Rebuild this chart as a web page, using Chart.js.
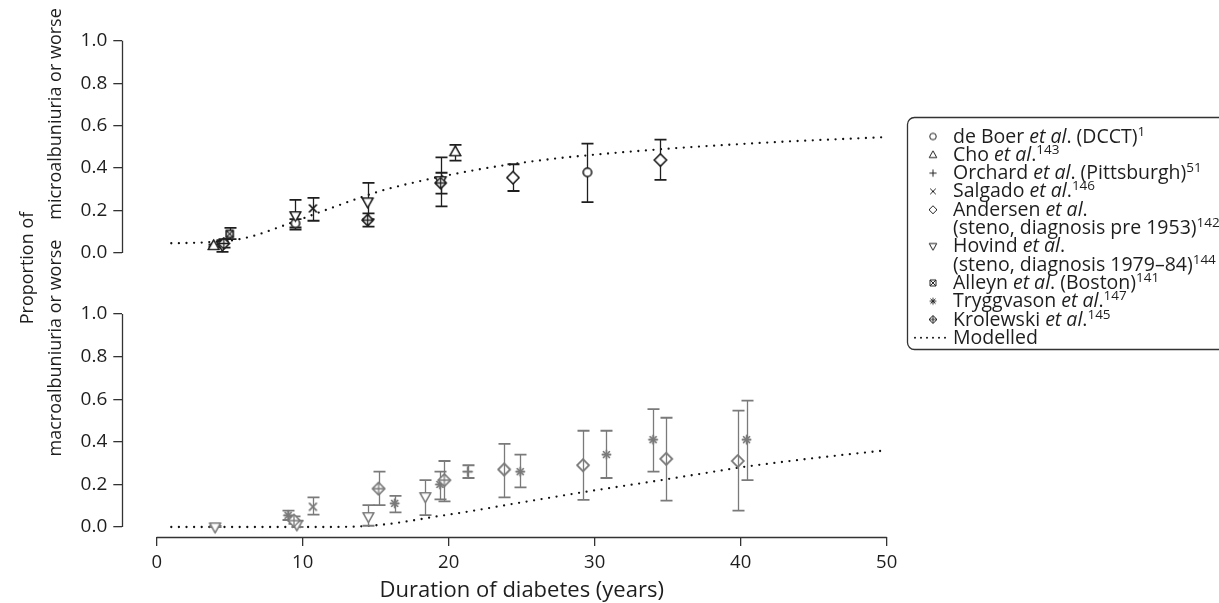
<!DOCTYPE html>
<html><head><meta charset="utf-8">
<script src="https://cdn.jsdelivr.net/npm/chart.js@4.4.1/dist/chart.umd.min.js"></script>
<style>
html,body{margin:0;padding:0;background:#fff;overflow:hidden}
#wrap{position:relative;width:1219px;height:603px}
canvas{position:absolute;left:0;top:0}
</style></head><body>
<div id="wrap"><canvas id="cTop" width="1219" height="603"></canvas><canvas id="cBot" width="1219" height="603"></canvas></div>
<script>
// ---------- data ----------
const xTicks = [0, 10, 20, 30, 40, 50];
const yTicks = [0, 0.2, 0.4, 0.6, 0.8, 1.0];

// modelled curves (read at sample durations)
const modelX     = [1, 2, 3, 4, 5, 6, 7, 8, 9, 10, 11, 12, 13, 14, 15, 16, 17, 18, 19, 20, 22, 24, 26, 28, 30, 32, 34, 36, 38, 40, 42, 44, 46, 48, 50];
const modelMicro = [0.046, 0.047, 0.049, 0.053, 0.058, 0.07, 0.088, 0.112, 0.137, 0.162, 0.188, 0.213, 0.238, 0.262, 0.285, 0.305, 0.322, 0.338, 0.353, 0.367, 0.393, 0.415, 0.434, 0.45, 0.463, 0.475, 0.486, 0.496, 0.505, 0.513, 0.521, 0.528, 0.534, 0.54, 0.546];
const modelMacro = [0, 0, 0, 0, 0, 0, 0, 0, 0, 0, 0, 0, 0.001, 0.003, 0.008, 0.015, 0.025, 0.036, 0.048, 0.058, 0.08, 0.104, 0.127, 0.15, 0.172, 0.193, 0.214, 0.236, 0.258, 0.28, 0.298, 0.315, 0.331, 0.346, 0.36];

// study points: [duration, proportion, lower, upper]
const deBoerMicro     = [[9.5, 0.14, 0.12, 0.16], [29.5, 0.38, 0.24, 0.515]];
const choMicro        = [[3.9, 0.035, 0.03, 0.04], [20.45, 0.477, 0.435, 0.509]];
const salgadoMicro    = [[10.7, 0.21, 0.152, 0.26]];
const andersenMicro   = [[24.4, 0.355, 0.292, 0.418], [34.5, 0.438, 0.344, 0.534]];
const hovindMicro     = [[4.5, 0.035, 0.005, 0.06], [9.5, 0.175, 0.11, 0.25], [14.45, 0.24, 0.16, 0.33], [19.45, 0.34, 0.22, 0.45]];
const alleynMicro     = [[5.0, 0.09, 0.065, 0.118]];
const krolewskiMicro  = [[4.6, 0.045, 0.025, 0.065], [14.45, 0.155, 0.124, 0.187], [19.45, 0.33, 0.28, 0.378]];

const hovindMacro     = [[4.0, 0.0, 0.0, 0.005], [9.6, 0.01, 0.0, 0.03], [14.5, 0.048, 0.006, 0.103], [18.4, 0.142, 0.056, 0.22]];
const tryggvasonMacro = [[9.0, 0.055, 0.033, 0.077], [16.3, 0.111, 0.069, 0.146], [19.4, 0.2, 0.13, 0.26], [24.9, 0.26, 0.186, 0.34], [30.8, 0.34, 0.23, 0.452], [34.0, 0.41, 0.26, 0.553], [40.4, 0.41, 0.22, 0.593]];
const krolewskiMacro  = [[9.4, 0.03, 0.015, 0.05], [15.2, 0.18, 0.103, 0.26], [19.7, 0.22, 0.12, 0.31]];
const andersenMacro   = [[23.8, 0.27, 0.139, 0.39], [29.2, 0.29, 0.127, 0.452], [34.9, 0.32, 0.124, 0.513], [39.8, 0.31, 0.077, 0.546]];
const salgadoMacro    = [[10.7, 0.095, 0.058, 0.139]];
const orchardMacro    = [[21.3, 0.26, 0.23, 0.29]];

// legend text runs: plain string, or [text, 'i'] italic, or [text, 's'] superscript
const legendMarkers = ['circle', 'tri', 'plus', 'cross', 'diamond', null, 'triDown', null, 'boxX', 'star', 'diamondPlus', 'line'];
const legendLines = [
  ['de Boer ', ['et al', 'i'], '. (DCCT)', ['1', 's']],
  ['Cho ', ['et al', 'i'], '.', ['143', 's']],
  ['Orchard ', ['et al', 'i'], '. (Pittsburgh)', ['51', 's']],
  ['Salgado ', ['et al', 'i'], '.', ['146', 's']],
  ['Andersen ', ['et al', 'i'], '.'],
  ['(steno, diagnosis pre 1953)', ['142', 's']],
  ['Hovind ', ['et al', 'i'], '.'],
  ['(steno, diagnosis 1979\u201384)', ['144', 's']],
  ['Alleyn ', ['et al', 'i'], '. (Boston)', ['141', 's']],
  ['Tryggvason ', ['et al', 'i'], '.', ['147', 's']],
  ['Krolewski ', ['et al', 'i'], '.', ['145', 's']],
  ['Modelled']
];
const xTitle = 'Duration of diabetes (years)';
const yTitleCommon = 'Proportion of';
const yTitleTop = 'microalbuniuria or worse';
const yTitleBottom = 'macroalbuniuria or worse';

// ---------- styling ----------
const FONT = "'Open Sans', 'Noto Sans', sans-serif";
const DARK = '#1e1e1e';
const GREY = '#7a7a7a';
Chart.defaults.font.family = FONT;
Chart.defaults.color = DARK;

function makeMarker(kind, size, color, lw, hollow) {
  const W = Math.ceil(size + 4);
  const c = document.createElement('canvas');
  c.width = W; c.height = W;
  const g = c.getContext('2d');
  g.strokeStyle = color; g.fillStyle = hollow ? 'rgba(0,0,0,0)' : '#fff'; g.lineWidth = lw; g.lineJoin = 'miter';
  const m = W / 2, r = size / 2;
  const diamond = () => { g.beginPath(); g.moveTo(m, m - r); g.lineTo(m + r, m); g.lineTo(m, m + r); g.lineTo(m - r, m); g.closePath(); g.fill(); g.stroke(); };
  const plus = (k) => { g.beginPath(); g.moveTo(m - r * k, m); g.lineTo(m + r * k, m); g.moveTo(m, m - r * k); g.lineTo(m, m + r * k); g.stroke(); };
  const cross = (k) => { g.beginPath(); g.moveTo(m - r * k, m - r * k); g.lineTo(m + r * k, m + r * k); g.moveTo(m + r * k, m - r * k); g.lineTo(m - r * k, m + r * k); g.stroke(); };
  switch (kind) {
    case 'circle': g.beginPath(); g.arc(m, m, r * 0.82, 0, Math.PI * 2); g.fill(); g.stroke(); break;
    case 'tri': g.beginPath(); g.moveTo(m, m - r); g.lineTo(m + r * 0.95, m + r * 0.7); g.lineTo(m - r * 0.95, m + r * 0.7); g.closePath(); g.fill(); g.stroke(); break;
    case 'triDown': g.beginPath(); g.moveTo(m, m + r); g.lineTo(m + r * 0.95, m - r * 0.7); g.lineTo(m - r * 0.95, m - r * 0.7); g.closePath(); g.fill(); g.stroke(); break;
    case 'plus': plus(0.9); break;
    case 'cross': cross(0.7); break;
    case 'diamond': diamond(); break;
    case 'boxX': g.beginPath(); g.rect(m - r * 0.75, m - r * 0.75, r * 1.5, r * 1.5); g.fill(); g.stroke(); cross(0.75); break;
    case 'star': plus(0.85); cross(0.62); break;
    case 'diamondPlus': diamond(); plus(1); break;
  }
  return c;
}

function pts(arr) { return arr.map(p => ({ x: p[0], y: p[1], lo: p[2], hi: p[3] })); }
function studySet(label, arr, kind, color, size, hollow) {
  return { type: 'scatter', label, data: pts(arr), pointStyle: makeMarker(kind, size, color, 1.3, hollow),
           pointRadius: size / 2, errColor: color, showLine: false, clip: false, order: 1 };
}
function modelSet(vals) {
  return { type: 'line', label: 'Modelled', data: modelX.map((x, i) => ({ x, y: vals[i] })),
           borderColor: '#111', borderWidth: 2.3, borderDash: [0, 7.6], borderCapStyle: 'round',
           pointRadius: 0, fill: false, cubicInterpolationMode: 'monotone', clip: false, order: 2 };
}

// ---------- plugins ----------
const errorBars = {
  id: 'errorBars',
  afterDatasetsDraw(chart) {
    const { ctx, scales: { x, y } } = chart;
    chart.data.datasets.forEach(ds => {
      if (!ds.errColor) return;
      ctx.save();
      ctx.strokeStyle = ds.errColor;
      ds.data.forEach(p => {
        const px = Math.round(x.getPixelForValue(p.x)) + 0.5;
        const yl = y.getPixelForValue(p.lo), yh = y.getPixelForValue(p.hi);
        ctx.lineWidth = 1.3;
        ctx.beginPath(); ctx.moveTo(px, yl); ctx.lineTo(px, yh); ctx.stroke();
        ctx.lineWidth = 1.8;
        ctx.beginPath(); ctx.moveTo(px - 6, yl); ctx.lineTo(px + 6, yl); ctx.moveTo(px - 6, yh); ctx.lineTo(px + 6, yh); ctx.stroke();
      });
      ctx.restore();
    });
  }
};
// redraw markers on top of error bars
const markersOnTop = {
  id: 'markersOnTop',
  afterDraw(chart) {
    const { ctx } = chart;
    chart.data.datasets.forEach((ds, i) => {
      if (!ds.errColor) return;
      const meta = chart.getDatasetMeta(i);
      meta.data.forEach(el => {
        const img = ds.pointStyle;
        ctx.drawImage(img, el.x - img.width / 2, el.y - img.height / 2);
      });
    });
  }
};
const axisLines = {
  id: 'axisLines',
  afterDraw(chart, args, opts) {
    const { ctx, chartArea, scales: { x, y } } = chart;
    ctx.save();
    ctx.strokeStyle = '#333'; ctx.lineWidth = 1.3;
    const ax = Math.round(chartArea.left) + 0.5;
    ctx.beginPath(); ctx.moveTo(ax, y.getPixelForValue(0)); ctx.lineTo(ax, y.getPixelForValue(1)); ctx.stroke();
    if (opts.xLine) {
      const by = Math.round(chartArea.bottom) + 0.5;
      ctx.beginPath(); ctx.moveTo(x.getPixelForValue(0), by); ctx.lineTo(x.getPixelForValue(50), by); ctx.stroke();
      ctx.fillStyle = DARK; ctx.font = '22px ' + FONT; ctx.textAlign = 'center'; ctx.textBaseline = 'middle';
      ctx.fillText(xTitle, (x.getPixelForValue(0) + x.getPixelForValue(50)) / 2, 591);
    }
    ctx.restore();
  }
};
function drawRich(ctx, runs, x, y) {
  let cx = x;
  runs.forEach(r => {
    let t = r, st = '';
    if (Array.isArray(r)) { t = r[0]; st = r[1]; }
    if (st === 's') { ctx.font = '13.5px ' + FONT; ctx.fillText(t, cx, y - 7); }
    else { ctx.font = (st === 'i' ? 'italic ' : '') + '19.5px ' + FONT; ctx.fillText(t, cx, y); }
    cx += ctx.measureText(t).width;
  });
}
const legendAndTitles = {
  id: 'legendAndTitles',
  afterDraw(chart) {
    const { ctx } = chart;
    ctx.save();
    // legend box
    const L = 907.5, T = 117.5, R = 1240, B = 349.5, rad = 7;
    ctx.strokeStyle = '#333'; ctx.lineWidth = 1.3;
    ctx.beginPath(); ctx.moveTo(R, T); ctx.lineTo(L + rad, T); ctx.arcTo(L, T, L, T + rad, rad);
    ctx.lineTo(L, B - rad); ctx.arcTo(L, B, L + rad, B, rad); ctx.lineTo(R, B); ctx.stroke();
    ctx.fillStyle = DARK; ctx.textBaseline = 'alphabetic'; ctx.textAlign = 'left';
    legendLines.forEach((runs, k) => {
      const base = 142.5 + k * 18.3;
      const mk = legendMarkers[k];
      if (mk === 'line') {
        ctx.save(); ctx.strokeStyle = '#111'; ctx.lineWidth = 2; ctx.lineCap = 'round'; ctx.setLineDash([0, 6]);
        ctx.beginPath(); ctx.moveTo(915, base - 6); ctx.lineTo(950, base - 6); ctx.stroke(); ctx.restore();
      } else if (mk) {
        const img = makeMarker(mk, 8, '#222', 1);
        ctx.drawImage(img, 933 - img.width / 2, base - 6 - img.height / 2);
      }
      drawRich(ctx, runs, 953, base);
    });
    // y titles
    ctx.font = '18px ' + FONT; ctx.textAlign = 'center'; ctx.textBaseline = 'middle';
    const rot = (t, x, y) => { ctx.save(); ctx.translate(x, y); ctx.rotate(-Math.PI / 2); ctx.fillText(t, 0, 0); ctx.restore(); };
    rot(yTitleCommon, 28, 268);
    rot(yTitleTop, 56, 114);
    rot(yTitleBottom, 56, 348);
    ctx.restore();
  }
};

function yScale(min) {
  return {
    type: 'linear', min, max: 1,
    afterBuildTicks: s => { s.ticks = yTicks.map(v => ({ value: v })); },
    afterFit: s => { s.width = 122.3; },
    ticks: { font: { size: 19 }, color: DARK, padding: 6, callback: v => v.toFixed(1) },
    grid: { drawOnChartArea: false, drawTicks: true, tickLength: 9, color: '#333', lineWidth: 1.3 },
    border: { display: false }
  };
}
function xScale(show) {
  return {
    type: 'linear', min: -2.356, max: 50, display: show,
    afterBuildTicks: s => { s.ticks = xTicks.map(v => ({ value: v })); },
    afterFit: s => { if (show) s.height = 66; },
    ticks: { font: { size: 18.5 }, color: DARK, padding: 6, maxRotation: 0 },
    grid: { drawOnChartArea: false, drawTicks: true, tickLength: 9, color: '#333', lineWidth: 1.3 },
    border: { display: false }
  };
}

const common = { responsive: false, animation: false, events: [], plugins: { legend: { display: false }, tooltip: { enabled: false } } };

new Chart(document.getElementById('cTop'), {
  type: 'scatter',
  data: { datasets: [
    modelSet(modelMicro),
    studySet('de Boer et al. (DCCT)', deBoerMicro, 'circle', DARK, 10),
    studySet('Cho et al.', choMicro, 'tri', DARK, 11),
    studySet('Salgado et al.', salgadoMicro, 'cross', DARK, 11),
    studySet('Andersen et al.', andersenMicro, 'diamond', DARK, 12),
    studySet('Hovind et al.', hovindMicro, 'triDown', DARK, 11),
    studySet('Alleyn et al. (Boston)', alleynMicro, 'boxX', DARK, 9),
    studySet('Krolewski et al.', krolewskiMicro, 'diamondPlus', DARK, 11)
  ] },
  options: Object.assign({}, common, {
    layout: { padding: { top: 40.7, bottom: 350, left: 0, right: 332.3 } },
    scales: { x: xScale(false), y: yScale(0) },
    plugins: Object.assign({}, common.plugins, { axisLines: { xLine: false } })
  }),
  plugins: [errorBars, markersOnTop, axisLines, legendAndTitles]
});

new Chart(document.getElementById('cBot'), {
  type: 'scatter',
  data: { datasets: [
    modelSet(modelMacro),
    studySet('Hovind et al.', hovindMacro, 'triDown', GREY, 11),
    studySet('Tryggvason et al.', tryggvasonMacro, 'star', GREY, 11),
    studySet('Krolewski et al.', krolewskiMacro, 'diamondPlus', GREY, 12),
    studySet('Andersen et al.', andersenMacro, 'diamond', GREY, 12, true),
    studySet('Salgado et al.', salgadoMacro, 'cross', GREY, 11),
    studySet('Orchard et al. (Pittsburgh)', orchardMacro, 'plus', GREY, 11)
  ] },
  options: Object.assign({}, common, {
    layout: { padding: { top: 314, bottom: 0, left: 0, right: 332.3 } },
    scales: { x: xScale(true), y: yScale(-0.0469) },
    plugins: Object.assign({}, common.plugins, { axisLines: { xLine: true } })
  }),
  plugins: [errorBars, markersOnTop, axisLines]
});
</script>
</body></html>
